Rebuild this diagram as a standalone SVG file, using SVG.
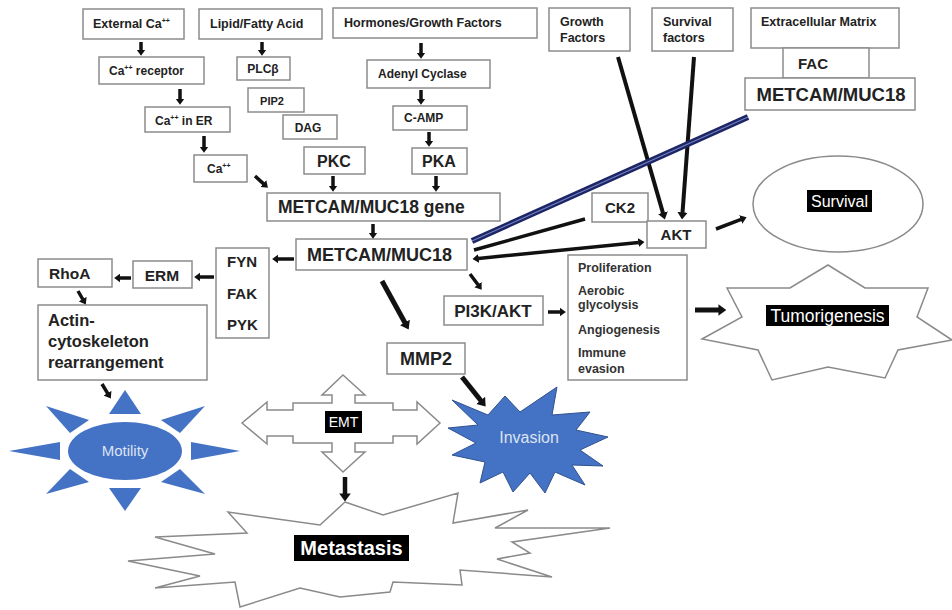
<svg xmlns="http://www.w3.org/2000/svg" width="952" height="610" viewBox="0 0 952 610">
<style>
.box{fill:#fff;stroke:#8c8c8c;stroke-width:1.5}
.t{font-family:"Liberation Sans",Arial,sans-serif;font-weight:bold;fill:#222}
.s{font-size:12.5px}
.m{font-size:12px}
.c{text-anchor:middle}
.ar{stroke:#111;stroke-width:3.5;fill:none;marker-end:url(#a)}
.tk{stroke:#111;stroke-width:5;fill:none;marker-end:url(#b)}
.lg{stroke:#111;stroke-width:4;fill:none;marker-end:url(#a)}
.lbl{font-family:"Liberation Sans",Arial,sans-serif;fill:#fff}
.blue{fill:#4472c4;stroke:#2f528f;stroke-width:1}
.out{fill:#fff;stroke:#8a8a8a;stroke-width:1.5}
</style>
<defs>
<marker id="a" viewBox="0 0 7 10" refX="0.5" refY="5" markerWidth="1.8" markerHeight="2.6" orient="auto-start-reverse" markerUnits="strokeWidth"><path d="M0,0 L7,5 L0,10 z" fill="#111"/></marker>
<marker id="b" viewBox="0 0 7 10" refX="0.5" refY="5" markerWidth="1.6" markerHeight="2.4" orient="auto" markerUnits="strokeWidth"><path d="M0,0 L7,5 L0,10 z" fill="#111"/></marker>
</defs>
<rect width="952" height="610" fill="#fff"/>

<g id="external-ca"><rect class="box" x="83" y="9" width="101" height="30"/><text class="t s" x="93" y="28">External Ca<tspan font-size="7" dy="-5">++</tspan></text></g>
<g id="lipid"><rect class="box" x="199" y="9" width="123" height="30"/><text class="t s" x="210" y="28">Lipid/Fatty Acid</text></g>
<g id="hormones"><rect class="box" x="333" y="8" width="204" height="30"/><text class="t s" x="344" y="27">Hormones/Growth Factors</text></g>
<g id="growth-factors"><rect class="box" x="549" y="8" width="81" height="43"/><text class="t s" x="560" y="26">Growth</text><text class="t s" x="560" y="42">Factors</text></g>
<g id="survival-factors"><rect class="box" x="652" y="8" width="81" height="43"/><text class="t s" x="663" y="26">Survival</text><text class="t s" x="663" y="42">factors</text></g>
<g id="ecm"><rect class="box" x="751" y="8" width="148" height="40"/><text class="t s" x="761" y="26">Extracellular Matrix</text></g>
<g id="fac"><rect class="box" x="783" y="48" width="86" height="30"/><text class="t" font-size="15" x="798" y="69">FAC</text></g>
<g id="metcam-top"><rect class="box" x="745" y="78" width="170" height="32"/><text class="t c" font-size="18.5" x="831" y="101">METCAM/MUC18</text></g>

<g id="ca-receptor"><rect class="box" x="99" y="57" width="105" height="27"/><text class="t m" x="109" y="75">Ca<tspan font-size="7" dy="-5">++</tspan><tspan dy="5"> receptor</tspan></text></g>
<g id="plcb"><rect class="box" x="237" y="57" width="53" height="23"/><text class="t m c" x="263" y="73">PLCβ</text></g>
<g id="pip2"><rect class="box" x="248" y="88" width="56" height="24"/><text class="t c" font-size="11" x="272" y="105">PIP2</text></g>
<g id="dag"><rect class="box" x="283" y="115" width="54" height="24"/><text class="t m c" x="308" y="132">DAG</text></g>
<g id="ca-er"><rect class="box" x="145" y="107" width="85" height="25"/><text class="t m" x="155" y="125">Ca<tspan font-size="7" dy="-5">++</tspan><tspan dy="5"> in ER</tspan></text></g>
<g id="ca"><rect class="box" x="194" y="155" width="53" height="27"/><text class="t m" x="207" y="173">Ca<tspan font-size="7" dy="-5">++</tspan></text></g>
<g id="adenyl"><rect class="box" x="367" y="60" width="123" height="28"/><text class="t m" x="378" y="78">Adenyl Cyclase</text></g>
<g id="camp"><rect class="box" x="393" y="106" width="74" height="24"/><text class="t m" x="404" y="122">C-AMP</text></g>
<g id="pkc"><rect class="box" x="304" y="147" width="61" height="27"/><text class="t c" font-size="16" x="334" y="167">PKC</text></g>
<g id="pka"><rect class="box" x="412" y="148" width="55" height="26"/><text class="t c" font-size="16" x="439" y="167">PKA</text></g>

<g id="gene"><rect class="box" x="267" y="193" width="233" height="28"/><text class="t" font-size="17.5" x="278" y="213">METCAM/MUC18 gene</text></g>
<g id="metcam"><rect class="box" x="296" y="239" width="171" height="31"/><text class="t" font-size="18" x="307" y="261">METCAM/MUC18</text></g>
<g id="ck2"><rect class="box" x="592" y="193" width="56" height="29"/><text class="t c" font-size="15" x="620" y="213">CK2</text></g>
<g id="akt"><rect class="box" x="647" y="221" width="59" height="27"/><text class="t c" font-size="15" x="676" y="240">AKT</text></g>
<g id="survival"><ellipse class="out" cx="838" cy="204" rx="85" ry="48"/><rect x="807" y="190" width="65" height="22" fill="#000"/><text class="lbl c" font-size="16" x="839.5" y="207">Survival</text></g>

<g id="fyn"><rect class="box" x="216" y="248" width="53" height="90"/><text class="t" font-size="15" x="227" y="267">FYN</text><text class="t" font-size="15" x="227" y="299">FAK</text><text class="t" font-size="15" x="227" y="330">PYK</text></g>
<g id="erm"><rect class="box" x="133" y="261" width="59" height="27"/><text class="t c" font-size="15.5" x="162" y="281">ERM</text></g>
<g id="rhoa"><rect class="box" x="38" y="259" width="74" height="28"/><text class="t" font-size="15.5" x="49" y="279">RhoA</text></g>
<g id="actin"><rect class="box" x="38" y="305" width="169" height="75"/><text class="t" font-size="16.5" x="48" y="326">Actin-</text><text class="t" font-size="16.5" x="48" y="347">cytoskeleton</text><text class="t" font-size="16.5" x="48" y="368">rearrangement</text></g>
<g id="pi3k"><rect class="box" x="444" y="296" width="99" height="29"/><text class="t c" font-size="17" x="493" y="317">PI3K/AKT</text></g>
<g id="mmp2"><rect class="box" x="387" y="343" width="78" height="31"/><text class="t c" font-size="18" x="426" y="365">MMP2</text></g>
<g id="outcomes"><rect class="box" x="568" y="255" width="119" height="125"/><g class="t" font-size="12.5" style="fill:#333"><text x="578" y="272">Proliferation</text><text x="578" y="295">Aerobic</text><text x="578" y="309">glycolysis</text><text x="578" y="334">Angiogenesis</text><text x="578" y="357">Immune</text><text x="578" y="373">evasion</text></g></g>

<g id="tumorigenesis"><polygon class="out" points="828,265 865,288 928,288 917,317 952,340 898,350 885,378 828,367 772,380 758,350 702,339 742,317 727,288 790,288"/><rect x="766" y="305" width="123" height="21" fill="#000"/><text class="lbl c" font-size="17.5" x="827.5" y="321.5">Tumorigenesis</text></g>

<g id="motility"><g class="blue" stroke="none"><polygon points="125,390 109,414 141,414" style="stroke:none"/><polygon points="125,511 109,488 141,488" style="stroke:none"/><polygon points="9,451 60,442 60,460" style="stroke:none"/><polygon points="240,451 191,442 191,460" style="stroke:none"/><polygon points="46,406 89,420 70,433" style="stroke:none"/><polygon points="205,406 161,420 180,433" style="stroke:none"/><polygon points="46,494 70,469 89,482" style="stroke:none"/><polygon points="205,494 180,469 161,482" style="stroke:none"/><ellipse cx="125" cy="451" rx="57" ry="29" style="stroke:none"/></g><text class="lbl c" font-size="15" x="125" y="456" style="fill:#dce4f2">Motility</text></g>

<g id="emt"><polygon class="out" points="343,375 365,395 355,395 355,403 393,403 393,410 417,410 417,402 440,423 417,444 417,436 393,436 393,443 355,443 355,452 365,452 343,472 322,452 332,452 332,443 293,443 293,436 267,436 267,444 242,423 267,402 267,410 293,410 293,403 332,403 332,395 322,395"/><rect x="325" y="411" width="37" height="22" fill="#000"/><text class="lbl c" font-size="14" x="343.5" y="427">EMT</text></g>

<g id="invasion"><polygon class="blue" points="452,400 488,415 505,396 520,412 557,387 552,415 590,412 576,430 608,437 580,450 603,466 572,465 585,485 555,472 545,493 530,473 513,492 503,472 480,483 485,462 452,455 476,443 448,428 478,425"/><text class="lbl c" font-size="16" x="529" y="443" style="fill:#dce4f2">Invasion</text></g>

<g id="metastasis"><polygon class="out" points="345,502 383,515 458,493 453,523 528,510 495,528 610,528 512,542 530,553 497,559 552,577 460,570 462,585 393,582 390,592 340,597 300,588 240,607 235,582 155,588 200,576 128,561 215,554 155,537 247,533 228,512 320,525"/><rect x="294" y="535" width="115" height="26" fill="#000"/><text class="lbl c" font-size="20" font-weight="bold" x="351.5" y="555">Metastasis</text></g>

<g id="connectors">
<line class="ar" x1="141" y1="42" x2="141" y2="50"/>
<line class="ar" x1="262" y1="42" x2="262" y2="50"/>
<line class="ar" x1="180" y1="89" x2="180" y2="99"/>
<line class="ar" x1="204" y1="136" x2="204" y2="147"/>
<line class="ar" x1="255" y1="176" x2="263.6" y2="183.9"/>
<line class="ar" x1="421" y1="43" x2="421" y2="53"/>
<line class="ar" x1="421" y1="90" x2="421" y2="99"/>
<line class="ar" x1="429" y1="132" x2="429" y2="141"/>
<line class="ar" x1="333" y1="176" x2="333" y2="186"/>
<line class="ar" x1="436" y1="176" x2="436" y2="186"/>
<line class="ar" x1="373" y1="224" x2="373" y2="233"/>
<line class="ar" x1="294" y1="259" x2="278" y2="259"/>
<line class="ar" x1="214" y1="277" x2="200" y2="277"/>
<line class="ar" x1="131" y1="278" x2="120" y2="278"/>
<line class="ar" x1="78" y1="291" x2="82.9" y2="299.5"/>
<line class="ar" x1="102" y1="384" x2="107.8" y2="393.6"/>
<line class="ar" x1="470" y1="274" x2="478.2" y2="285"/>
<line class="ar" x1="548" y1="312" x2="560" y2="312"/>
<line class="ar" x1="716" y1="229" x2="741.1" y2="219.3"/>
<line class="ar" style="stroke-width:4.5" x1="345" y1="477" x2="345" y2="494"/>
<line class="tk" x1="382" y1="281" x2="405.1" y2="323"/>
<line class="tk" x1="462" y1="377" x2="481" y2="400.8"/>
<line class="tk" x1="695" y1="310" x2="719" y2="310"/>
<line class="lg" x1="618" y1="57" x2="663" y2="213.1"/>
<line class="lg" x1="694" y1="57" x2="682.5" y2="212.8"/>
<line class="ar" style="marker-start:url(#a)" x1="478.3" y1="258.4" x2="638.7" y2="242.6"/>
<line stroke="#111" stroke-width="3.5" x1="585" y1="219" x2="474" y2="250"/>
<line stroke="#1c2566" stroke-width="6" x1="748" y1="117" x2="472" y2="241"/>
<line stroke="#7481bd" stroke-width="1.2" x1="748" y1="117" x2="472" y2="241"/>
</g>
</svg>
